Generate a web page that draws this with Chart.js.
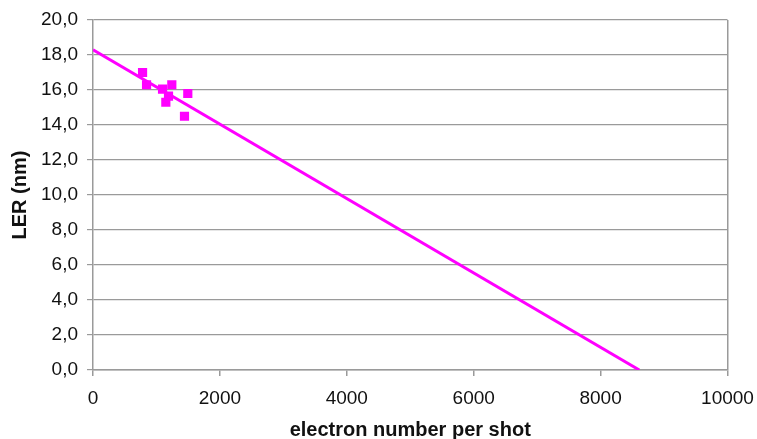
<!DOCTYPE html>
<html>
<head>
<meta charset="utf-8">
<script src="https://cdn.jsdelivr.net/npm/chart.js@4/dist/chart.umd.min.js"></script>
<style>
  html, body { margin: 0; padding: 0; background: #fff; }
  #wrap { width: 757px; height: 439px; }
</style>
</head>
<body>
<div id="wrap"><canvas id="lerChart"></canvas></div>
<script>
// measured points (electron number per shot, LER in nm)
const electrons = [781, 844, 1096, 1242, 1148, 1190, 1494, 1442];
const lerValues = [17.0, 16.3, 16.05, 16.3, 15.3, 15.65, 15.8, 14.5];

// linear fit, end points
const fitX = [0, 8610];
const fitY = [18.3, 0];

const gridGray = '#9a9a9a';
const magenta = '#ff00ff';

const ctx = document.getElementById('lerChart').getContext('2d');

new Chart(ctx, {
    type: 'scatter',
    data: {
        datasets: [
            {
                label: 'fit',
                data: fitX.map((x, i) => ({ x: x, y: fitY[i] })),
                showLine: true,
                borderColor: magenta,
                borderWidth: 3,
                pointRadius: 0,
                order: 2
            },
            {
                label: 'LER',
                data: electrons.map((x, i) => ({ x: x, y: lerValues[i] })),
                pointStyle: 'rect',
                pointRadius: 6.5,
                backgroundColor: magenta,
                borderColor: magenta,
                borderWidth: 0,
                order: 1
            }
        ]
    },
    options: {
        responsive: true,
        maintainAspectRatio: false,
        animation: false,
        layout: { padding: { top: 20, right: 29.5, left: 0, bottom: 0 } },
        plugins: {
            legend: { display: false },
            tooltip: { enabled: false }
        },
        scales: {
            x: {
                type: 'linear',
                min: 0,
                max: 10000,
                ticks: {
                    stepSize: 2000,
                    color: '#111',
                    padding: 11,
                    maxRotation: 0,
                    font: { family: 'Liberation Sans', size: 19 },
                    callback: v => String(v)
                },
                grid: {
                    color: c => (c.tick && c.tick.value === 10000) ? gridGray : 'transparent',
                    tickColor: gridGray,
                    tickLength: 6,
                    lineWidth: 1.5
                },
                border: { color: gridGray, width: 1.5 },
                title: {
                    display: true,
                    text: 'electron number per shot',
                    color: '#111',
                    padding: { top: 0, bottom: -3 },
                    font: { family: 'Liberation Sans', size: 20, weight: 'bold' }
                },
                afterFit: s => {
                    s.height = 69;
                    s.paddingLeft = 0;
                    s.paddingRight = 0;
                }
            },
            y: {
                type: 'linear',
                min: 0,
                max: 20,
                ticks: {
                    stepSize: 2,
                    color: '#111',
                    padding: 9,
                    font: { family: 'Liberation Sans', size: 19 },
                    callback: v => v.toFixed(1).replace('.', ',')
                },
                grid: {
                    color: gridGray,
                    tickColor: gridGray,
                    tickLength: 6,
                    lineWidth: 1.2
                },
                border: { color: gridGray, width: 1.5 },
                title: {
                    display: true,
                    text: 'LER (nm)',
                    color: '#111',
                    padding: { top: 8, bottom: 0 },
                    font: { family: 'Liberation Sans', size: 20, weight: 'bold' }
                },
                afterFit: s => {
                    s.width = 93;
                    s.paddingTop = 0;
                    s.paddingBottom = 0;
                }
            }
        }
    }
});
</script>
</body>
</html>
